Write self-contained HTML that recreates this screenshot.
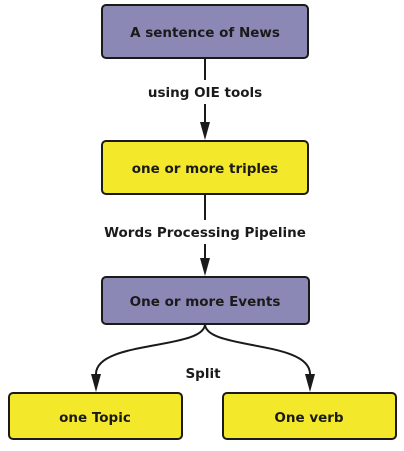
<!DOCTYPE html>
<html><head><style>
body{margin:0;width:404px;height:446px;background:#fff;overflow:hidden}
svg text{font-family:"DejaVu Sans","Liberation Sans",sans-serif;font-weight:bold;fill:#1a1a1a;text-anchor:middle}
</style></head><body>
<svg width="404" height="446" viewBox="0 0 404 446">
<g stroke="#1a1a1a" stroke-width="2" fill="none">
<line x1="205" y1="58" x2="205" y2="80"/>
<line x1="205" y1="104" x2="205" y2="126"/>
<line x1="205" y1="194" x2="205" y2="220"/>
<line x1="205" y1="244" x2="205" y2="262"/>
<path d="M205,324 C205,350 96,340 96,374"/>
<path d="M205,324 C205,350 310,340 310,374"/>
</g>
<g fill="#1a1a1a">
<path d="M200,122 L210,122 L205,140 Z"/>
<path d="M200,258 L210,258 L205,276 Z"/>
<path d="M91,374 L101,374 L96,392 Z"/>
<path d="M305,374 L315,374 L310,392 Z"/>
</g>
<g stroke="#1a1a1a" stroke-width="2">
<rect x="102" y="5" width="206" height="53" rx="4" fill="#8b88b5"/>
<rect x="102" y="141" width="206" height="53" rx="4" fill="#f3e82a"/>
<rect x="102" y="277" width="207" height="47" rx="4" fill="#8b88b5"/>
<rect x="9" y="393" width="173" height="46" rx="4" fill="#f3e82a"/>
<rect x="223" y="393" width="173" height="46" rx="4" fill="#f3e82a"/>
</g>
<g font-size="13.5">
<text x="205" y="37">A sentence of News</text>
<text x="205" y="97">using OIE tools</text>
<text x="205" y="173">one or more triples</text>
<text x="205" y="237">Words Processing Pipeline</text>
<text x="205" y="306">One or more Events</text>
<text x="203" y="378">Split</text>
<text x="95" y="422">one Topic</text>
<text x="309" y="422">One verb</text>
</g>
</svg>
</body></html>
